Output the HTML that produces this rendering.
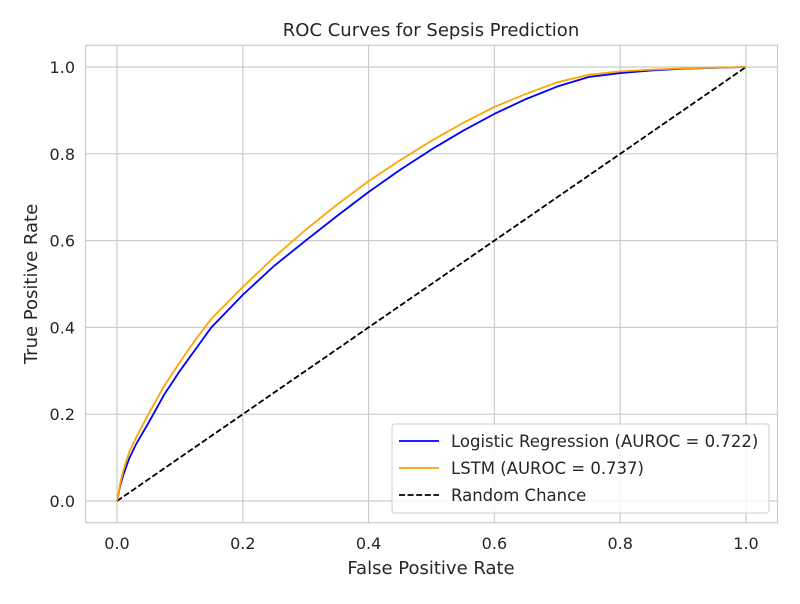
<!DOCTYPE html>
<html><head><meta charset="utf-8"><style>
body{margin:0;background:#fff;font-family:"DejaVu Sans","Liberation Sans",sans-serif}
svg text{font-family:"DejaVu Sans","Liberation Sans",sans-serif;fill:#262626}
</style></head><body>
<svg id="chart" width="800" height="600">
<rect x="0" y="0" width="800" height="600" fill="#fff"/>
<g id="grid"></g>
<rect x="85.5" y="45.3" width="692" height="477.4" fill="none" stroke="#ccc" stroke-width="1.2"/>
<g id="ticks"></g>
<g id="series"></g>
<text x="431" y="36" font-size="18" text-anchor="middle">ROC Curves for Sepsis Prediction</text>
<text x="431" y="574" font-size="18" text-anchor="middle">False Positive Rate</text>
<text x="37" y="284" font-size="18" text-anchor="middle" transform="rotate(-90 37 284)">True Positive Rate</text>
<g>
<rect x="392" y="424" width="377" height="89" rx="3" fill="#fff" fill-opacity="0.8" stroke="#ccc"/>
<g><line x1="399" x2="439" y1="441" y2="441" stroke="blue" stroke-width="1.8"/><text x="451" y="447" font-size="16.5">Logistic Regression (AUROC = 0.722)</text></g>
<g><line x1="399" x2="439" y1="468" y2="468" stroke="orange" stroke-width="1.8"/><text x="451" y="474" font-size="16.5">LSTM (AUROC = 0.737)</text></g>
<g><line x1="399" x2="439" y1="495" y2="495" stroke="#000" stroke-width="1.8" stroke-dasharray="6,2.6"/><text x="451" y="501" font-size="16.5">Random Chance</text></g>
</g>
</svg>
<script>
const ticks=[0,0.2,0.4,0.6,0.8,1.0];
const tickLabels=["0.0","0.2","0.4","0.6","0.8","1.0"];
const lrX=[0,0.005,0.01,0.02,0.03,0.05,0.075,0.1,0.125,0.15,0.2,0.25,0.3,0.35,0.4,0.45,0.5,0.55,0.6,0.65,0.7,0.75,0.8,0.85,0.9,1.0];
const lrY=[0,0.035,0.06,0.1,0.13,0.18,0.245,0.30,0.35,0.40,0.475,0.542,0.60,0.657,0.712,0.763,0.81,0.853,0.892,0.926,0.955,0.977,0.986,0.992,0.996,1.0];
const lstmX=[0,0.005,0.01,0.02,0.03,0.05,0.075,0.1,0.125,0.15,0.2,0.25,0.3,0.35,0.4,0.45,0.5,0.55,0.6,0.65,0.7,0.75,0.8,0.85,0.9,1.0];
const lstmY=[0,0.04,0.07,0.115,0.145,0.20,0.265,0.32,0.372,0.42,0.493,0.562,0.625,0.683,0.737,0.785,0.83,0.871,0.908,0.938,0.965,0.982,0.99,0.994,0.997,1.0];
const randX=[0,1];
const randY=[0,1];
const sx=v=>117+v*629, sy=v=>501-v*434;
const NS="http://www.w3.org/2000/svg";
const grid=document.getElementById('grid'),tk=document.getElementById('ticks'),se=document.getElementById('series');
function mk(tag,attrs,parent){const e=document.createElementNS(NS,tag);for(const k in attrs)e.setAttribute(k,attrs[k]);parent.appendChild(e);return e;}
ticks.forEach((t,i)=>{
 const gx=mk('line',{x1:sx(t),x2:sx(t),y1:45.3,y2:522.7,stroke:'#ccc','stroke-width':1.2},grid);
 
 
 const gy=mk('line',{x1:85.5,x2:777.5,y1:sy(t),y2:sy(t),stroke:'#ccc','stroke-width':1.2},grid);
 
 
 const lx=mk('text',{x:sx(t),y:549,'font-size':16,'text-anchor':'middle'},tk);lx.textContent=tickLabels[i];
 
 
 const ly=mk('text',{x:75,y:sy(t)+6,'font-size':16,'text-anchor':'end'},tk);ly.textContent=tickLabels[i];
 
 
});
function line(xs,ys,color,dash){const d=xs.map((x,i)=>(i?'L':'M')+sx(x)+','+sy(ys[i])).join('');
 const p=mk('path',{d:d,fill:'none',stroke:color,'stroke-width':1.8,'stroke-linejoin':'round'},se);if(dash)p.setAttribute('stroke-dasharray',dash);return p;}
const pr=line(randX,randY,'#000','6,2.6');


const pl=line(lrX,lrY,'blue');


const ps=line(lstmX,lstmY,'orange');


</script>
</body></html>
